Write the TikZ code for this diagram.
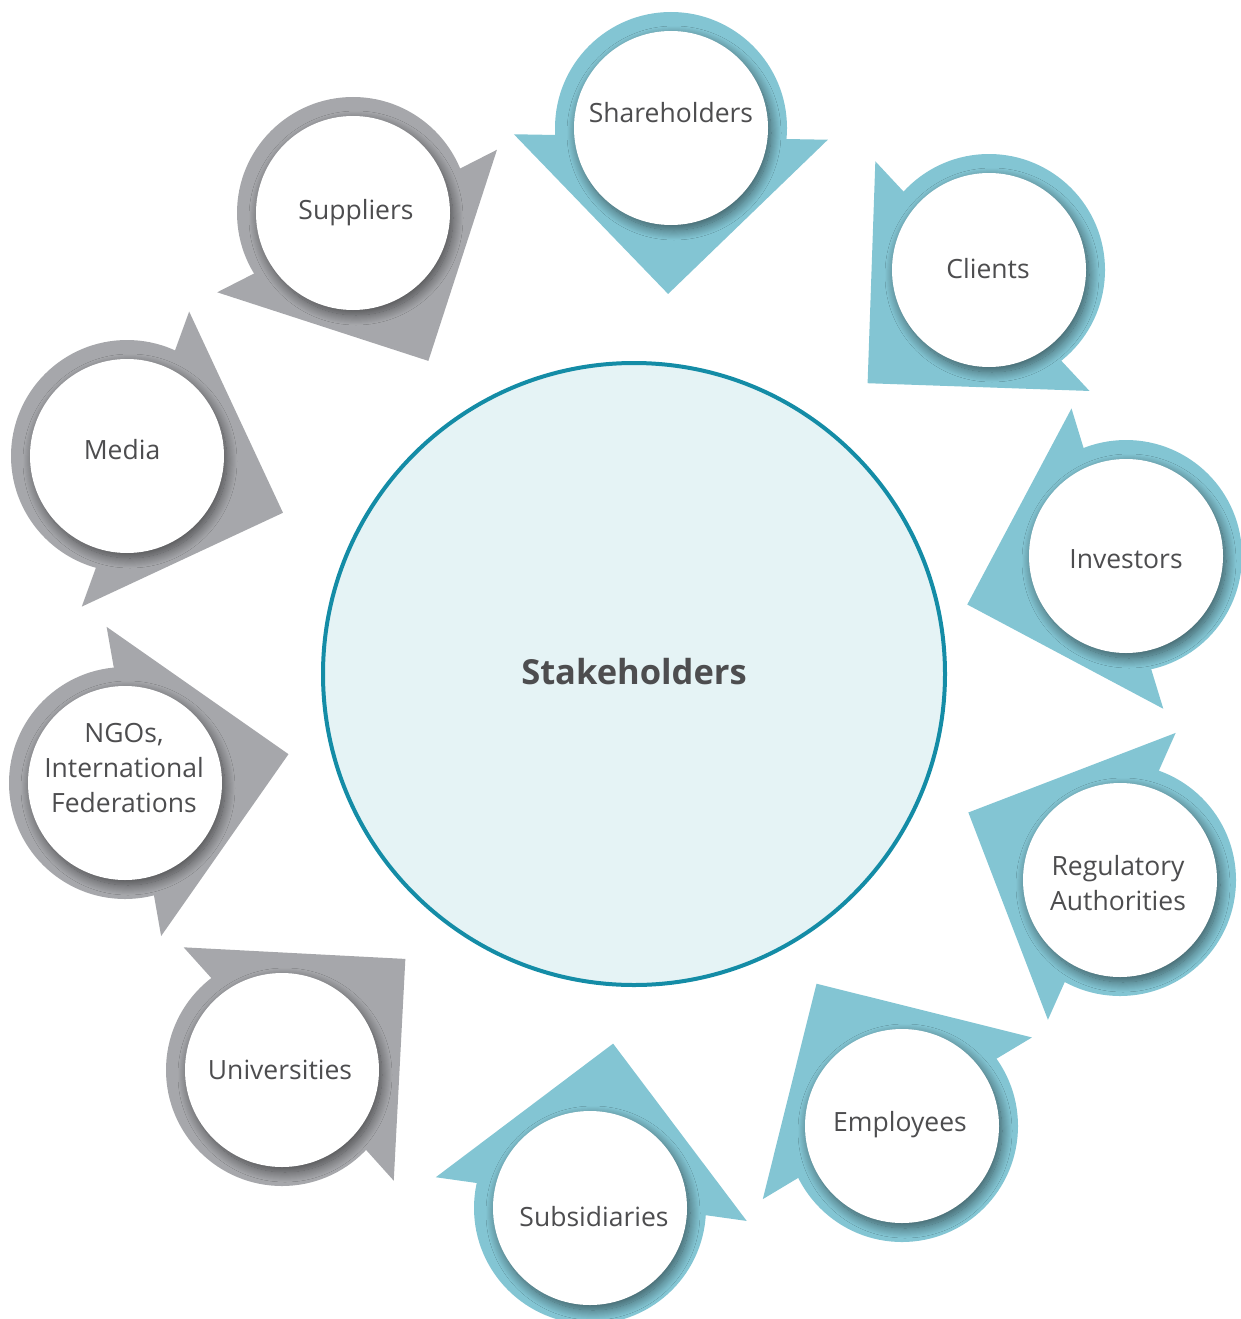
\documentclass[tikz,border=0pt]{standalone}
\usepackage{fontspec}
\setmainfont{Open Sans}
\usetikzlibrary{calc,shadows.blur}
\definecolor{ringteal}{HTML}{83C5D3}
\definecolor{ringgray}{HTML}{A6A7AB}
\definecolor{corefill}{HTML}{E5F3F5}
\definecolor{coreborder}{HTML}{148CA6}
\definecolor{txt}{HTML}{4D4D4F}
\begin{document}
\begin{tikzpicture}[x=1pt,y=-1pt,
  whitecirc/.style={circle, fill=white, minimum size=194pt, inner sep=0pt,
    blur shadow={shadow xshift=3pt, shadow yshift=-5pt, shadow blur radius=10pt, shadow blur steps=20, shadow opacity=55}},
  lbl/.style={text=txt, font=\fontsize{26.5}{35}\selectfont, align=center, inner sep=0pt}]
\useasboundingbox (0,0) rectangle (1241,1319);
\node[circle, draw=coreborder, line width=4pt, fill=corefill, minimum size=622pt, inner sep=0pt] (core) at (634,674) {};
\node[text=txt, font=\bfseries\fontsize{34.5}{40}\selectfont] (core-t) at (634,672) {Stakeholders};
\foreach \n/\x/\y/\a/\c in {sh/671/128/91/ringteal, cl/989/270/137/ringteal, inv/1126/556/163/ringteal, reg/1120/880/204/ringteal, emp/902/1126/239/ringteal, sub/590/1208/278/ringteal, uni/282/1070/318/ringgray, ngo/125/783/350/ringgray, med/127/456/20/ringgray, sup/353/213/63/ringgray} {
  \coordinate (\n-c) at (\x,\y);
  \fill[\c] (\n-c) circle (116);
  \fill[\c] ($(\n-c)+(\a:166)$) -- ($(\n-c)+(\a:9)+({\a+90}:157)$) -- ($(\n-c)+(\a:9)+({\a-90}:157)$) -- cycle;
  \node[whitecirc] (\n) at (\n-c) {};
}
\node[lbl] (sh-t) at (671,113) {Shareholders};
\node[lbl] (cl-t) at (988,269) {Clients};
\node[lbl] (inv-t) at (1126,559) {Investors};
\node[lbl] (reg-t) at (1118,883) {Regulatory\\Authorities};
\node[lbl] (emp-t) at (900,1125) {Employees};
\node[lbl] (sub-t) at (594,1217) {Subsidiaries};
\node[lbl] (uni-t) at (280,1070) {Universities};
\node[lbl] (ngo-t) at (124,768) {NGOs,\\International\\Federations};
\node[lbl] (med-t) at (122,450) {Media};
\node[lbl] (sup-t) at (356,213) {Suppliers};
\end{tikzpicture}
\end{document}
